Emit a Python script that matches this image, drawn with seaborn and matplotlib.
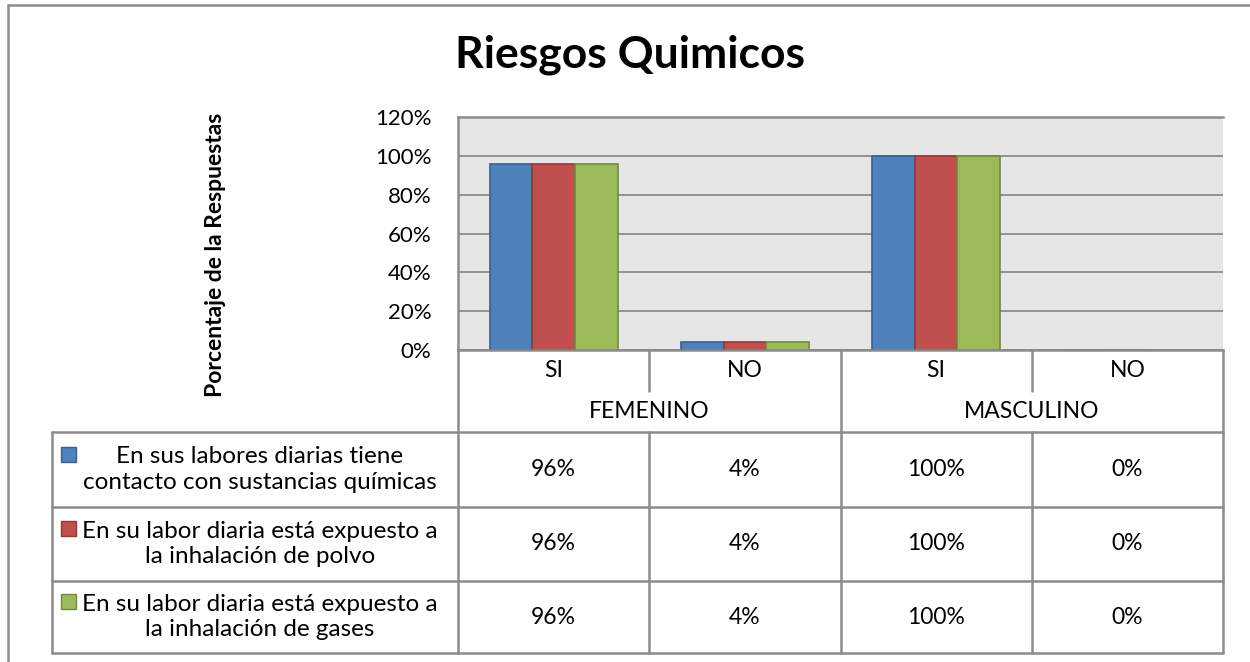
import numpy as np
import pandas as pd
import matplotlib
matplotlib.use('Agg')
import matplotlib.pyplot as plt
import seaborn as sns
from matplotlib.lines import Line2D
from matplotlib.patches import Rectangle
from matplotlib.ticker import PercentFormatter
from matplotlib.transforms import blended_transform_factory

# datos
generos = ['FEMENINO', 'MASCULINO']
respuestas = ['SI', 'NO']
series = [
    'En sus labores diarias tiene\ncontacto con sustancias químicas',
    'En su labor diaria está expuesto a\nla inhalación de polvo',
    'En su labor diaria está expuesto a\nla inhalación de gases',
]
contacto_quimicos = [0.96, 0.04, 1.00, 0.00]
inhalacion_polvo = [0.96, 0.04, 1.00, 0.00]
inhalacion_gases = [0.96, 0.04, 1.00, 0.00]

colores = ['#4F81BD', '#C0504D', '#9BBB59']
bordes = ['#3A5F8B', '#8E3B38', '#71893F']
gris = '#8C8C8C'

categorias = [f'{g} {r}' for g in generos for r in respuestas]
valores = [contacto_quimicos, inhalacion_polvo, inhalacion_gases]
df = pd.DataFrame({
    'categoria': categorias * len(series),
    'serie': np.repeat(series, len(categorias)),
    'valor': np.concatenate(valores),
})

sns.set_theme(style='white')
plt.rcParams['font.family'] = ['Lato', 'DejaVu Sans']
plt.rcParams['text.color'] = 'black'
plt.rcParams['ytick.color'] = 'black'

W, H = 1250, 662
fig = plt.figure(figsize=(W / 100, H / 100), dpi=100)


def fx(x):
    return x / W


def fy(y):
    return 1 - y / H


# area del grafico (pixeles)
izq, der, arriba, abajo = 458, 1223, 117, 350
ax = fig.add_axes([fx(izq), fy(abajo), fx(der) - fx(izq), fy(arriba) - fy(abajo)])

sns.barplot(data=df, x='categoria', y='valor', hue='serie', order=categorias,
            hue_order=series, palette=colores, width=0.67, saturation=1,
            errorbar=None, legend=False, ax=ax)
for cont, borde in zip(ax.containers, bordes):
    for p in cont:
        p.set_edgecolor(borde)
        p.set_linewidth(1.2)

ax.set_xlim(-0.5, len(categorias) - 0.5)
ax.set_ylim(0, 1.2)
ax.set_yticks(np.arange(0, 1.21, 0.2))
ax.yaxis.set_major_formatter(PercentFormatter(1.0, decimals=0))
ax.set_xticks([])
ax.set_xlabel('')
ax.set_ylabel('')
ax.set_facecolor('#E6E6E6')
ax.grid(axis='y', color=gris, lw=1.3)
ax.set_axisbelow(True)
ax.tick_params(axis='y', length=0, pad=19, labelsize=16, labelcolor='black')
for lado in ['left', 'top', 'bottom']:
    ax.spines[lado].set_color(gris)
    ax.spines[lado].set_linewidth(1.8)
ax.spines['right'].set_visible(False)

# titulo y etiqueta del eje
fig.text(fx(630), fy(55), 'Riesgos Quimicos', ha='center', va='center',
         fontsize=32, fontweight='bold')
fig.text(fx(216), fy(255), 'Porcentaje de la Respuestas', ha='center', va='center',
         rotation=90, fontsize=16.5, fontweight='bold')

# tabla de datos
filas = [350, 391, 432, 507, 581, 653]
col_izq = 52


def linea(x0, y0, x1, y1):
    fig.add_artist(Line2D([fx(x0), fx(x1)], [fy(y0), fy(y1)], color=gris, lw=1.8,
                          transform=fig.transFigure))


for y in filas[2:]:
    linea(col_izq, y, der, y)
linea(col_izq, filas[2], col_izq, filas[-1])
linea(izq, filas[0], izq, filas[-1])
linea(der, filas[0], der, filas[-1])
ancho_col = (der - izq) / len(categorias)
for i in range(1, len(categorias)):
    x = izq + i * ancho_col
    if i % len(respuestas) == 0:
        linea(x, filas[0], x, filas[-1])
    else:
        linea(x, filas[0], x, filas[1])
        linea(x, filas[2], x, filas[-1])

tr = blended_transform_factory(ax.transData, fig.transFigure)
for i, cat in enumerate(categorias):
    fig.text(i, fy((filas[0] + filas[1]) / 2), respuestas[i % len(respuestas)],
             transform=tr, ha='center', va='center', fontsize=16.5)
for j, g in enumerate(generos):
    xc = j * len(respuestas) + (len(respuestas) - 1) / 2
    fig.text(xc, fy((filas[1] + filas[2]) / 2), g, transform=tr,
             ha='center', va='center', fontsize=16.5)

for k, (nombre, vals) in enumerate(zip(series, valores)):
    yc = (filas[2 + k] + filas[3 + k]) / 2
    for i, v in enumerate(vals):
        fig.text(i, fy(yc), f'{v:.0%}', transform=tr, ha='center', va='center',
                 fontsize=16.5)
    fig.text(fx(260), fy(yc), nombre, ha='center', va='center', fontsize=17.5,
             linespacing=1.25, multialignment='center')
    fig.add_artist(Rectangle((fx(61), fy(yc - 8)), fx(15), 15 / H,
                             facecolor=colores[k], edgecolor=bordes[k], lw=1,
                             transform=fig.transFigure))

# borde exterior del grafico
linea(8, 5, W, 5)
linea(8, 5, 8, H)

fig.savefig('out.png', dpi=100)
